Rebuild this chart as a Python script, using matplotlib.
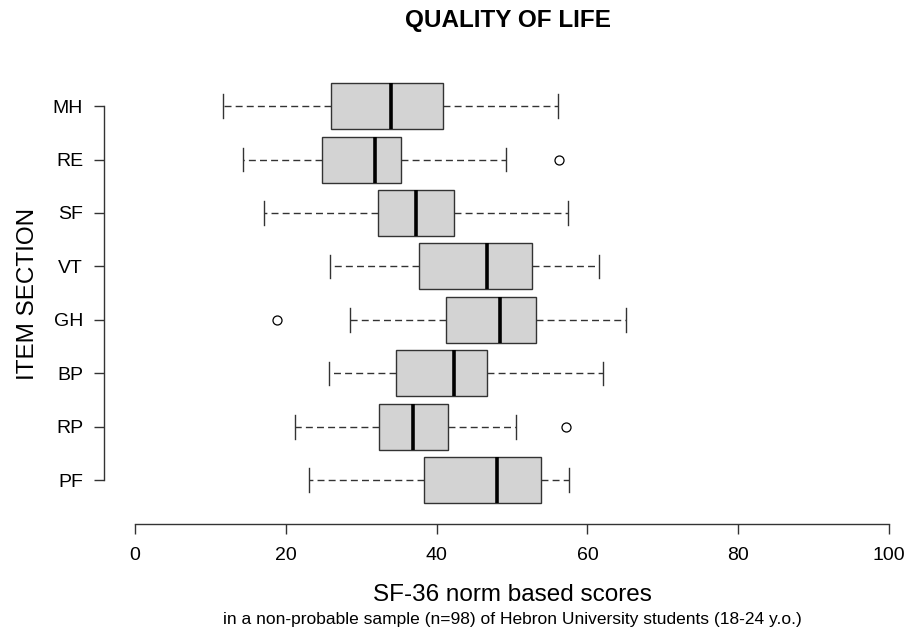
import matplotlib
matplotlib.use("Agg")
import matplotlib.pyplot as plt

plt.rcParams['font.family'] = ['Liberation Sans', 'DejaVu Sans']

# Data (top to bottom as displayed)
categories = ["MH", "RE", "SF", "VT", "GH", "BP", "RP", "PF"]
whisker_low = [11.65, 14.4, 17.2, 25.9, 28.5, 25.7, 21.2, 23.1]
q1 = [26.05, 24.8, 32.3, 37.7, 41.3, 34.6, 32.4, 38.4]
median = [33.9, 31.8, 37.3, 46.7, 48.4, 42.3, 36.9, 48.0]
q3 = [40.8, 35.3, 42.3, 52.6, 53.2, 46.7, 41.5, 53.8]
whisker_high = [56.1, 49.2, 57.4, 61.5, 65.1, 62.1, 50.5, 57.5]
outliers = [[], [56.2], [], [], [18.9], [], [57.2], []]
x_ticks = [0, 20, 40, 60, 80, 100]

W, H = 912, 633
fig = plt.figure(figsize=(W / 100, H / 100), dpi=100)

left_px, right_px, top_px, bottom_px = 104.3, 910.0, 62.3, 524.0
ax = fig.add_axes([left_px / W, 1 - bottom_px / H,
                   (right_px - left_px) / W, (bottom_px - top_px) / H])

n = len(categories)
positions = list(range(n, 0, -1))
stats = []
for i in range(n):
    stats.append(dict(med=median[i], q1=q1[i], q3=q3[i],
                      whislo=whisker_low[i], whishi=whisker_high[i],
                      fliers=outliers[i], label=categories[i]))

edge = '#333333'
ax.bxp(stats, positions=positions, widths=0.86, capwidths=0.44,
       orientation='horizontal', patch_artist=True,
       boxprops=dict(facecolor='#d3d3d3', edgecolor=edge, linewidth=1.0),
       medianprops=dict(color='black', linewidth=2.6, solid_capstyle='butt'),
       whiskerprops=dict(color=edge, linewidth=1.0, linestyle=(0, (5, 3))),
       capprops=dict(color=edge, linewidth=1.0),
       flierprops=dict(marker='o', markerfacecolor='none', markeredgecolor='black',
                       markersize=6.5, markeredgewidth=0.9))

unit = (889.3 - 134.7) / 100.0
ax.set_xlim(-(134.7 - left_px) / unit, (right_px - 134.7) / unit)
ax.set_ylim(0.18, 8.82)

for s in ['top', 'right']:
    ax.spines[s].set_visible(False)
ax.spines['left'].set_bounds(1, n)
ax.spines['bottom'].set_bounds(0, 100)
for s in ['left', 'bottom']:
    ax.spines[s].set_color(edge)
    ax.spines[s].set_linewidth(1.0)

ax.set_yticks(positions)
ax.set_yticklabels(categories)
ax.set_xticks(x_ticks)
ax.set_xticklabels([str(t) for t in x_ticks])
ax.tick_params(axis='both', direction='out', length=7.2, width=1.0, color=edge,
               labelsize=14, labelcolor='black')
ax.tick_params(axis='x', pad=9)
ax.tick_params(axis='y', pad=8)

fig.text(508 / W, 1 - 20 / H, "QUALITY OF LIFE", ha='center', va='center',
         fontsize=17.5, fontweight='bold')
fig.text(512 / W, 1 - 595 / H, "SF-36 norm based scores", ha='center', va='center',
         fontsize=17.5)
fig.text(512 / W, 1 - 619.5 / H,
         "in a non-probable sample (n=98) of Hebron University students (18-24 y.o.)",
         ha='center', va='center', fontsize=12.55)
fig.text(28 / W, 1 - 294 / H, "ITEM SECTION", ha='center', va='center',
         rotation=90, fontsize=17.5)

fig.savefig("out.png", dpi=100)
